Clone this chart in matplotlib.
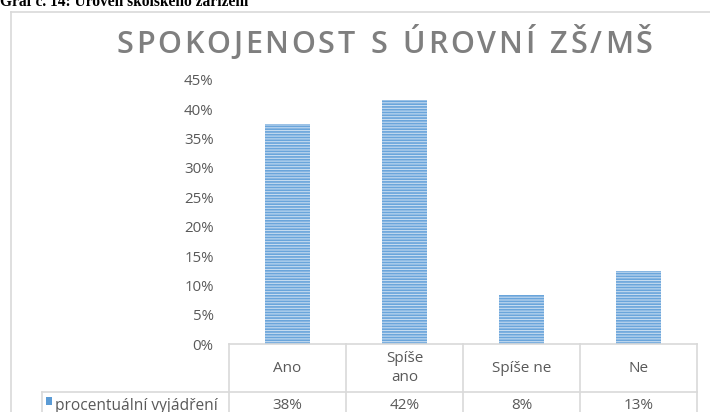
import matplotlib
matplotlib.use('Agg')
import matplotlib.pyplot as plt
from matplotlib.lines import Line2D
from matplotlib.patches import Rectangle

# data
kategorie = ['Ano', 'Spíše\nano', 'Spíše ne', 'Ne']
hodnoty = [37.5, 41.67, 8.33, 12.5]
popisky = ['38%', '42%', '8%', '13%']
tiky = [0, 5, 10, 15, 20, 25, 30, 35, 40, 45]
nazev_serie = 'procentuální vyjádření'
titulek = 'SPOKOJENOST S ÚROVNÍ ZŠ/MŠ'
nadpis = 'Graf č. 14: Úroveň školského zařízení'

W, H = 710, 412
plt.rcParams['font.family'] = ['Open Sans', 'DejaVu Sans']
plt.rcParams['hatch.linewidth'] = 1.2
seda_txt = '#595959'
mrizka = '#d9d9d9'
modra = '#5b9bd5'

fig = plt.figure(figsize=(W / 100, H / 100), dpi=100)

def fx(x):
    return x / W

def fy(y):
    return 1 - y / H

# horní nadpis (oříznutý)
fig.text(fx(0), fy(6.5), nadpis, fontsize=11.2, fontweight='bold',
         family='Liberation Serif', va='baseline', ha='left', color='black')

# rámeček grafu
fig.add_artist(Line2D([fx(11), fx(W + 5)], [fy(12), fy(12)], color=mrizka, lw=1.2))
fig.add_artist(Line2D([fx(11), fx(11)], [fy(12), fy(H + 5)], color=mrizka, lw=1.2))

ax_l, ax_r, ax_b, ax_t = 229, 697, 344, 80
ax = fig.add_axes([fx(ax_l), fy(ax_b), fx(ax_r - ax_l), fy(ax_t) - fy(ax_b)])
x = list(range(len(kategorie)))
ax.bar(x, [h / 100 for h in hodnoty], width=0.385, color='#c5dbf0',
       edgecolor='#6aa5db', hatch='------', linewidth=0)
ax.set_xlim(-0.5, len(kategorie) - 0.5)
ax.set_ylim(0, 0.45)
ax.set_yticks([t / 100 for t in tiky])
ax.set_yticklabels([f'{t}%' for t in tiky])
ax.tick_params(axis='y', length=0, pad=11, labelsize=10.8, labelcolor=seda_txt)
ax.set_xticks([])
for s in ax.spines.values():
    s.set_visible(False)

# tabulka dat pod osou
row1 = 392
sirka = (ax_r - ax_l) / len(kategorie)
fig.add_artist(Line2D([fx(ax_l), fx(ax_r)], [fy(ax_b), fy(ax_b)], color=mrizka, lw=1.2))
fig.add_artist(Line2D([fx(42), fx(ax_r)], [fy(row1), fy(row1)], color=mrizka, lw=1.2))
fig.add_artist(Line2D([fx(42), fx(42)], [fy(row1), fy(H + 5)], color=mrizka, lw=1.2))
for i in range(len(kategorie) + 1):
    xx = ax_l + i * sirka
    fig.add_artist(Line2D([fx(xx), fx(xx)], [fy(ax_b), fy(H + 5)], color=mrizka, lw=1.2))
for i, (k, p) in enumerate(zip(kategorie, popisky)):
    cx = ax_l + (i + 0.5) * sirka
    fig.text(fx(cx), fy(368), k, ha='center', va='center', fontsize=11,
             color=seda_txt, linespacing=1.35)
    fig.text(fx(cx), fy(405.5), p, ha='center', va='center', fontsize=11,
             color=seda_txt)
fig.add_artist(Rectangle((fx(46), fy(405)), fx(6), fy(397) - fy(405), color=modra, lw=0))
fig.text(fx(55), fy(405.5), nazev_serie, ha='left', va='center', fontsize=11.2,
         color=seda_txt)

# titulek s prostrkaným písmem
renderer = fig.canvas.get_renderer()
mezera = 2.8
vel = 22
sirky = []
for ch in titulek:
    t = fig.text(0, 0, ch if ch != ' ' else 'n', fontsize=vel, fontweight='semibold')
    sirky.append(t.get_window_extent(renderer).width * (0.5 if ch == ' ' else 1))
    t.remove()
x0 = 116
for ch, w in zip(titulek, sirky):
    fig.text(fx(x0), fy(53), ch, fontsize=vel, fontweight='semibold', color='#7f7f7f',
             ha='left', va='baseline')
    x0 += w + mezera

fig.savefig('out.png', dpi=100)
